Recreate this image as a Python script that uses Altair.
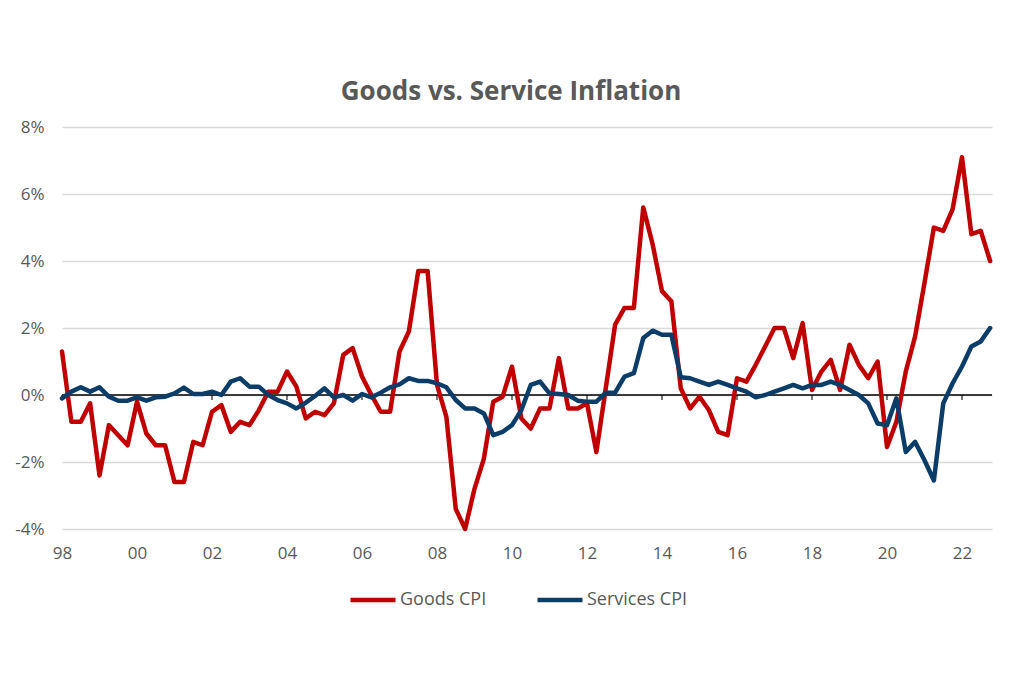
import altair as alt
import pandas as pd

# Quarterly year-over-year change, 1998Q1 .. 2022Q4 (percent)
goods = [1.3, -0.8, -0.8, -0.25, -2.4, -0.9, -1.2, -1.5, -0.2, -1.15,
         -1.5, -1.5, -2.6, -2.6, -1.4, -1.5, -0.5, -0.3, -1.1, -0.8,
         -0.9, -0.45, 0.1, 0.1, 0.7, 0.25, -0.7, -0.5, -0.6, -0.25,
         1.2, 1.4, 0.55, 0.0, -0.5, -0.5, 1.3, 1.9, 3.7, 3.7,
         0.3, -0.65, -3.4, -4.0, -2.8, -1.9, -0.2, -0.05, 0.85, -0.7,
         -1.0, -0.4, -0.4, 1.1, -0.4, -0.4, -0.25, -1.7, 0.2, 2.1,
         2.6, 2.6, 5.6, 4.5, 3.1, 2.8, 0.2, -0.4, -0.05, -0.45,
         -1.1, -1.2, 0.5, 0.4, 0.9, 1.45, 2.0, 2.0, 1.1, 2.15,
         0.15, 0.7, 1.05, 0.15, 1.5, 0.9, 0.5, 1.0, -1.55, -0.8,
         0.7, 1.75, 3.35, 5.0, 4.9, 5.55, 7.1, 4.8, 4.9, 4.0]

services = [-0.1, 0.1, 0.23, 0.1, 0.23, -0.05, -0.17, -0.17, -0.07, -0.17,
            -0.07, -0.05, 0.05, 0.22, 0.03, 0.03, 0.1, 0.0, 0.4, 0.5,
            0.25, 0.25, 0.0, -0.15, -0.25, -0.4, -0.23, -0.03, 0.2, -0.07,
            0.0, -0.17, 0.03, -0.07, 0.07, 0.23, 0.32, 0.5, 0.42, 0.42,
            0.35, 0.23, -0.15, -0.4, -0.4, -0.55, -1.2, -1.1, -0.9, -0.45,
            0.3, 0.4, 0.05, 0.03, 0.0, -0.17, -0.2, -0.2, 0.07, 0.07,
            0.55, 0.65, 1.7, 1.92, 1.8, 1.8, 0.53, 0.5, 0.4, 0.3,
            0.4, 0.3, 0.2, 0.1, -0.07, 0.0, 0.1, 0.2, 0.3, 0.2,
            0.3, 0.3, 0.4, 0.3, 0.15, 0.0, -0.25, -0.85, -0.9, -0.1,
            -1.7, -1.4, -1.95, -2.55, -0.25, 0.35, 0.85, 1.45, 1.6, 2.0]

series_names = ["Goods CPI", "Services CPI"]
series_colors = ["#C00000", "#0C3D69"]
quarters = [1998 + i / 4 for i in range(len(goods))]
x_tick_years = list(range(1998, 2023, 2))
y_ticks = [-4, -2, 0, 2, 4, 6, 8]

FONT = "Open Sans"
GRAY = "#595959"

df = pd.DataFrame({
    "t": quarters + quarters,
    "v": goods + services,
    "series": [series_names[0]] * len(goods) + [series_names[1]] * len(services),
})
zero_df = pd.DataFrame({"v": [0]})
ticks_df = pd.DataFrame({"t": x_tick_years, "v": [0] * len(x_tick_years)})

x_enc = alt.X(
    "t:Q",
    scale=alt.Scale(domain=[1998, 2022.8], nice=False, zero=False),
    axis=alt.Axis(values=x_tick_years, labelExpr="slice(toString(datum.value), 2)",
                  title=None, grid=False, domain=False, ticks=False, tickSize=0,
                  labelFontSize=17, labelColor=GRAY, labelFont=FONT,
                  labelPadding=16, labelFlush=False),
)
y_enc = alt.Y(
    "v:Q",
    scale=alt.Scale(domain=[-4, 8], nice=False, zero=False),
    axis=alt.Axis(values=y_ticks, labelExpr="datum.value + '%'", title=None,
                  grid=True, gridColor="#D9D9D9", gridWidth=1.5,
                  domain=False, ticks=False, tickSize=0,
                  labelFontSize=17, labelColor=GRAY, labelFont=FONT,
                  labelPadding=18),
)

zero_rule = alt.Chart(zero_df).mark_rule(color="black", strokeWidth=1.5).encode(y=y_enc)
tick_marks = alt.Chart(ticks_df).mark_tick(
    color="black", orient="vertical", size=5, thickness=1.5, yOffset=2.5
).encode(x=x_enc, y=y_enc)

lines = alt.Chart(df).mark_line(strokeWidth=4.5, strokeJoin="round", strokeCap="round").encode(
    x=x_enc,
    y=y_enc,
    color=alt.Color(
        "series:N",
        scale=alt.Scale(domain=series_names, range=series_colors),
        legend=alt.Legend(
            title=None, orient="none", legendX=286, legendY=448, direction="horizontal",
            symbolType="stroke", symbolStrokeWidth=4.5, symbolSize=2025,
            labelFont=FONT, labelFontSize=18, labelColor=GRAY,
            labelOffset=2, columnPadding=41, padding=0,
        ),
    ),
)

chart = alt.layer(zero_rule, tick_marks, lines).properties(
    width=930,
    height=402,
    title=alt.TitleParams(
        "Goods vs. Service Inflation", font=FONT, fontSize=26, fontWeight="bold",
        color=GRAY, anchor="middle", frame="group", baseline="alphabetic",
        offset=27, dx=-16, dy=35,
    ),
    autosize=alt.AutoSizeParams(type="none"),
    padding={"left": 54, "top": 119, "right": 24, "bottom": 120},
).configure_view(stroke=None)

chart.save("out.html", embed_options={"renderer": "svg", "actions": False})
